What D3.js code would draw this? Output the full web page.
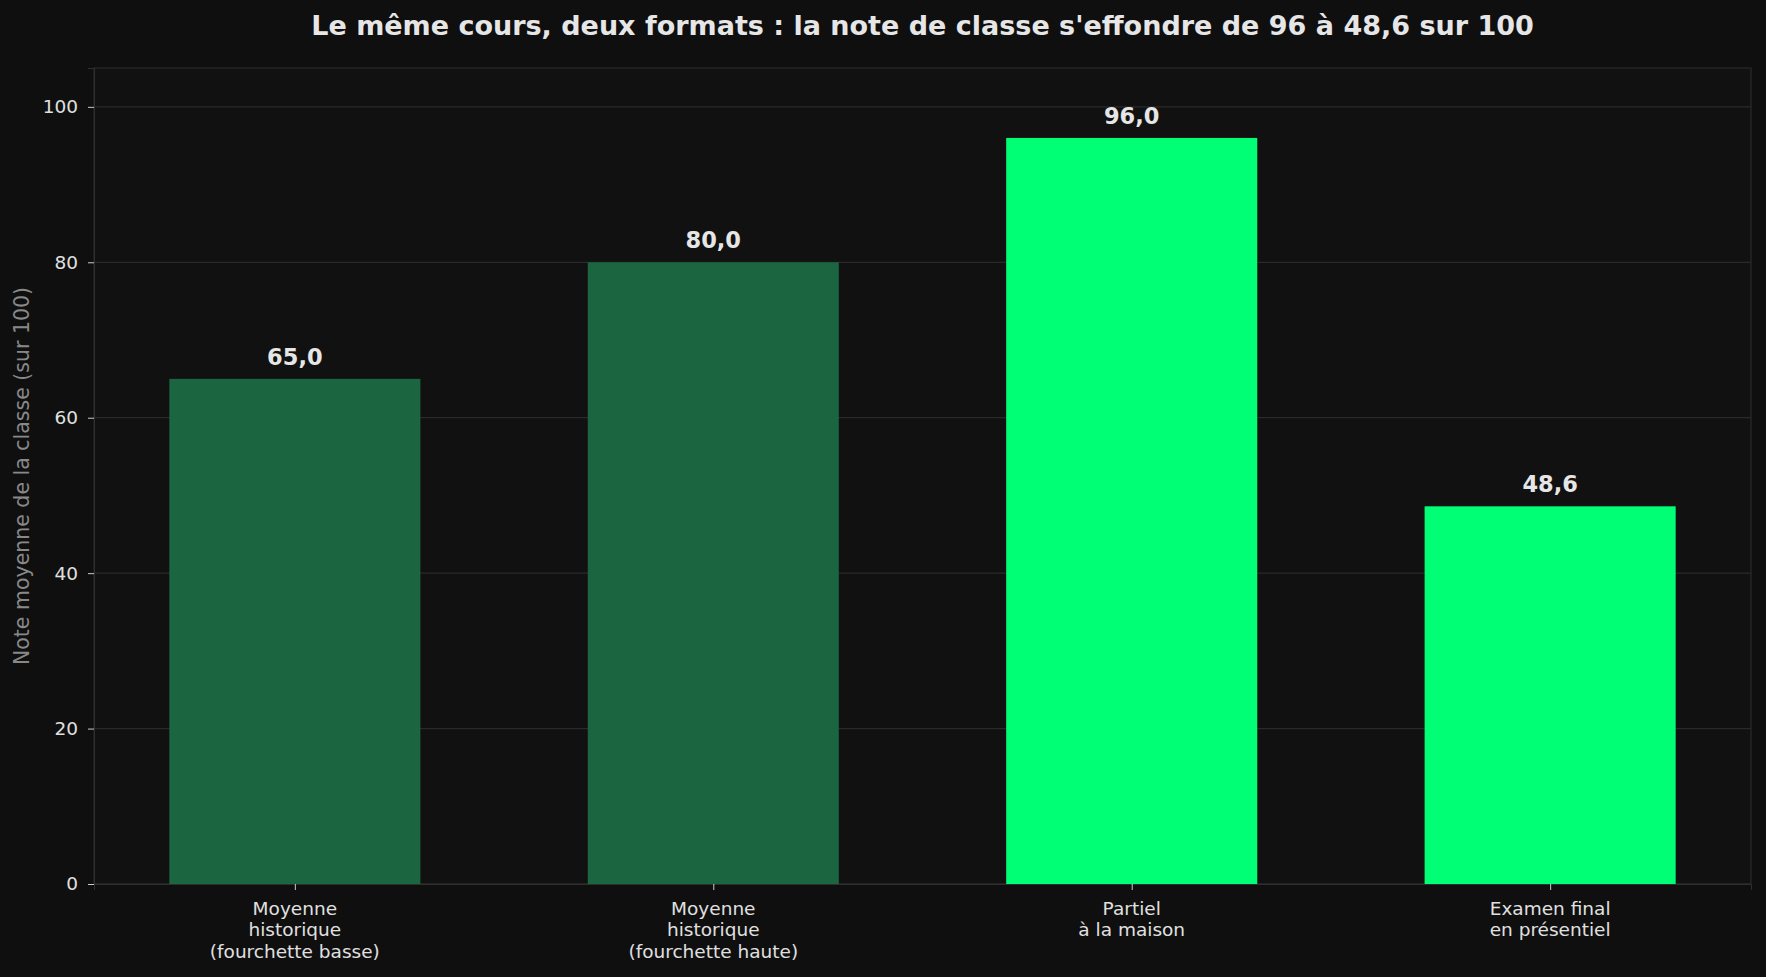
<!DOCTYPE html>
<html>
<head>
<meta charset="utf-8">
<script src="https://cdn.jsdelivr.net/npm/d3@7"></script>
<style>
  html, body { margin: 0; padding: 0; background: #0f0f0f; }
  svg { display: block; font-family: "DejaVu Sans", sans-serif; }
</style>
</head>
<body>
<svg id="canvas" width="1766" height="977"></svg>
<script>
// data
let categories = [
  ['Moyenne', 'historique', '(fourchette basse)'],
  ['Moyenne', 'historique', '(fourchette haute)'],
  ['Partiel', 'à la maison'],
  ['Examen final', 'en présentiel']
]
let values = [65.0, 80.0, 96.0, 48.6]
let barKinds = ['hist', 'hist', 'exam', 'exam']
let yTicks = [0, 20, 40, 60, 80, 100]

let titleText = "Le même cours, deux formats : la note de classe s'effondre de 96 à 48,6 sur 100"
let yLabelText = 'Note moyenne de la classe (sur 100)'

// layout
let margin = {left: 94, right: 15, top: 68, bottom: 93}
let width = 1766, height = 977
let canvas = d3.select('#canvas')

let x = d3.scaleLinear()
  .domain([-0.48, values.length - 1 + 0.48])
  .range([margin.left, width - margin.right])

let y = d3.scaleLinear()
  .domain([0, 105])
  .range([height - margin.bottom, margin.top])

let colors = {hist: '#1b6641', exam: '#00ff75'}
let barWidth = x(0.6) - x(0)

// plot background
canvas.append('rect')
  .attr('x', margin.left).attr('y', margin.top)
  .attr('width', width - margin.left - margin.right)
  .attr('height', height - margin.top - margin.bottom)
  .attr('fill', '#111111')
  .attr('stroke', '#2e2e2e')

// grid
canvas.append('g')
  .selectAll('line')
  .data(yTicks)
  .enter()
  .append('line')
  .attr('x1', margin.left).attr('x2', width - margin.right)
  .attr('y1', d => y(d)).attr('y2', d => y(d))
  .attr('stroke', '#2a2a2a')
  .attr('stroke-width', 1.2)

// bars
canvas.append('g')
  .selectAll('rect')
  .data(values)
  .enter()
  .append('rect')
  .attr('x', (d, i) => x(i) - barWidth / 2)
  .attr('y', d => y(d))
  .attr('width', barWidth)
  .attr('height', d => y(0) - y(d))
  .attr('fill', (d, i) => colors[barKinds[i]])

// value labels
canvas.append('g')
  .selectAll('text')
  .data(values)
  .enter()
  .append('text')
  .attr('x', (d, i) => x(i))
  .attr('y', d => y(d) - 14)
  .attr('text-anchor', 'middle')
  .attr('fill', '#e6e6e6')
  .attr('font-size', '22.5px')
  .attr('font-weight', 'bold')
  .text(d => d.toFixed(1).replace('.', ','))

// y axis
let yAxis = d3.axisLeft(y).tickValues(yTicks).tickSize(6).tickPadding(10)
let gy = canvas.append('g')
  .attr('transform', 'translate(' + margin.left + ',0)')
  .call(yAxis)
gy.select('.domain').attr('stroke', '#2e2e2e')
gy.selectAll('.tick line').attr('stroke', '#cccccc')
gy.selectAll('.tick text')
  .attr('fill', '#e0e0e0')
  .attr('font-size', '18.5px')
  .attr('font-family', '"DejaVu Sans", sans-serif')

// x axis
let xAxis = d3.axisBottom(x).tickValues(d3.range(values.length)).tickSize(6).tickFormat('')
let gx = canvas.append('g')
  .attr('transform', 'translate(0,' + y(0) + ')')
  .call(xAxis)
gx.select('.domain').attr('stroke', '#2e2e2e')
gx.selectAll('.tick line').attr('stroke', '#cccccc')

let xLabels = canvas.append('g')
  .selectAll('text')
  .data(categories)
  .enter()
  .append('text')
  .attr('x', (d, i) => x(i))
  .attr('y', y(0) + 31)
  .attr('text-anchor', 'middle')
  .attr('fill', '#e0e0e0')
  .attr('font-size', '18.5px')

xLabels.selectAll('tspan')
  .data(d => d)
  .enter()
  .append('tspan')
  .attr('x', function () { return d3.select(this.parentNode).attr('x') })
  .attr('dy', (d, i) => i === 0 ? 0 : 21.4)
  .text(d => d)

// y label
canvas.append('text')
  .attr('transform', 'translate(29,' + (margin.top + (height - margin.top - margin.bottom) / 2) + ') rotate(-90)')
  .attr('text-anchor', 'middle')
  .attr('fill', '#888888')
  .attr('font-size', '20.5px')
  .text(yLabelText)

// title
canvas.append('text')
  .attr('x', (margin.left + width - margin.right) / 2)
  .attr('y', 35)
  .attr('text-anchor', 'middle')
  .attr('fill', '#e6e6e6')
  .attr('font-size', '27px')
  .attr('font-weight', 'bold')
  .text(titleText)
</script>
</body>
</html>
